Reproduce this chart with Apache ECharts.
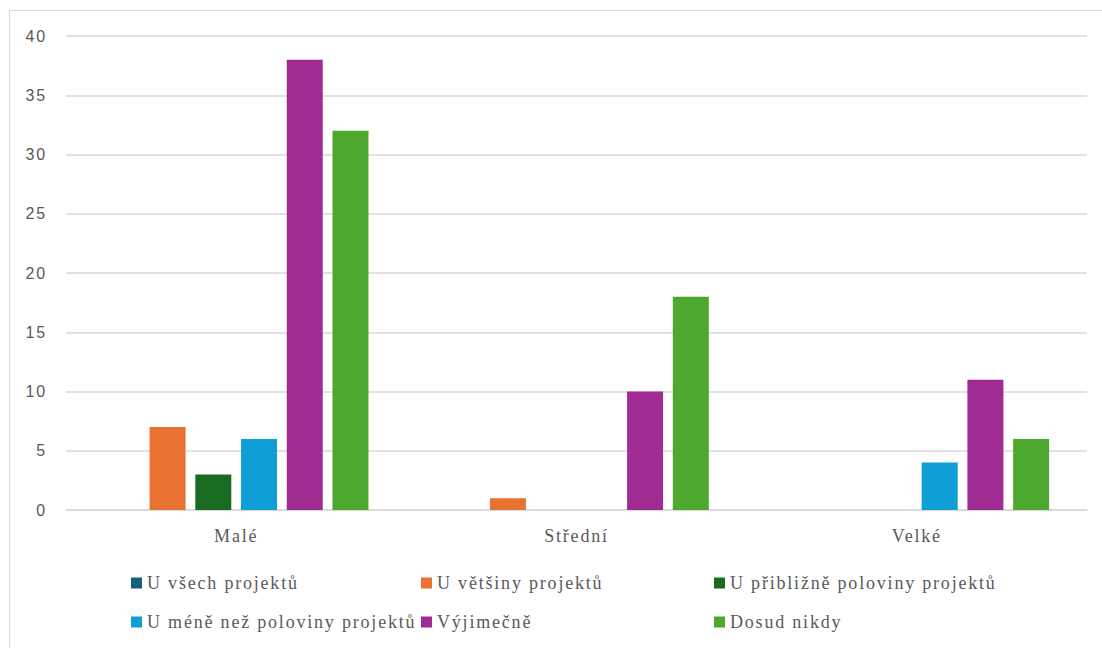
<!DOCTYPE html>
<html><head><meta charset="utf-8">
<script src="https://cdn.jsdelivr.net/npm/echarts@6/dist/echarts.min.js"></script>
<style>html,body{margin:0;padding:0;background:#fff}#c{width:1102px;height:648px}#c text{letter-spacing:1.8px}</style>
</head><body><div id="c"></div>
<script>
const categories = ['Malé', 'Střední', 'Velké'];
const seriesNames = ['U všech projektů', 'U většiny projektů', 'U přibližně poloviny projektů', 'U méně než poloviny projektů', 'Výjimečně', 'Dosud nikdy'];
const uVsech = [0, 0, 0];
const uVetsiny = [7, 1, 0];
const uPriblizne = [3, 0, 0];
const uMene = [6, 0, 4];
const vyjimecne = [38, 10, 11];
const dosudNikdy = [32, 18, 6];
const yTicks = [0, 5, 10, 15, 20, 25, 30, 35, 40];
const colors = ['#156082', '#E97132', '#196B24', '#0F9ED5', '#A02B93', '#4EA72E'];
const values = [uVsech, uVetsiny, uPriblizne, uMene, vyjimecne, dosudNikdy];

const serif = '"Liberation Serif", "DejaVu Serif", serif';
const sans = '"Liberation Sans", Arial, sans-serif';
const legendText = {fontFamily: serif, fontSize: 18, color: '#595959'};
function leg(left, names) {
  return {left: left, top: 569, orient: 'vertical', itemWidth: 11, itemHeight: 11, itemGap: 21,
    icon: 'rect', textStyle: legendText, data: names, selectedMode: false};
}
const chart = echarts.init(document.getElementById('c'), null, {renderer: 'svg'});
chart.setOption({
  animation: false,
  color: colors,
  graphic: [{type: 'rect', shape: {x: 9.5, y: 10.5, width: 1200, height: 700}, style: {fill: 'none', stroke: '#d9d9d9', lineWidth: 1}}],
  grid: {left: 66, right: 15, top: 36, bottom: 138},
  legend: [leg(126, [seriesNames[0], seriesNames[3]]), leg(416, [seriesNames[1], seriesNames[4]]), leg(709, [seriesNames[2], seriesNames[5]])],
  xAxis: {type: 'category', data: categories,
    axisLine: {lineStyle: {color: '#d9d9d9', width: 1.5}}, axisTick: {show: false},
    axisLabel: {fontFamily: serif, fontSize: 18, color: '#595959', margin: 17}},
  yAxis: {type: 'value', min: 0, max: 40, interval: 5,
    axisLine: {show: false}, axisTick: {show: false},
    splitLine: {lineStyle: {color: '#d9d9d9', width: 1.5}},
    axisLabel: {fontFamily: sans, fontSize: 16, color: '#595959', margin: 19,
      formatter: v => yTicks.includes(v) ? String(v) : ''}},
  series: seriesNames.map((n, i) => ({name: n, type: 'bar', data: values[i], barWidth: 36, barGap: '27%',
    itemStyle: {color: colors[i]}}))
});
</script></body></html>
